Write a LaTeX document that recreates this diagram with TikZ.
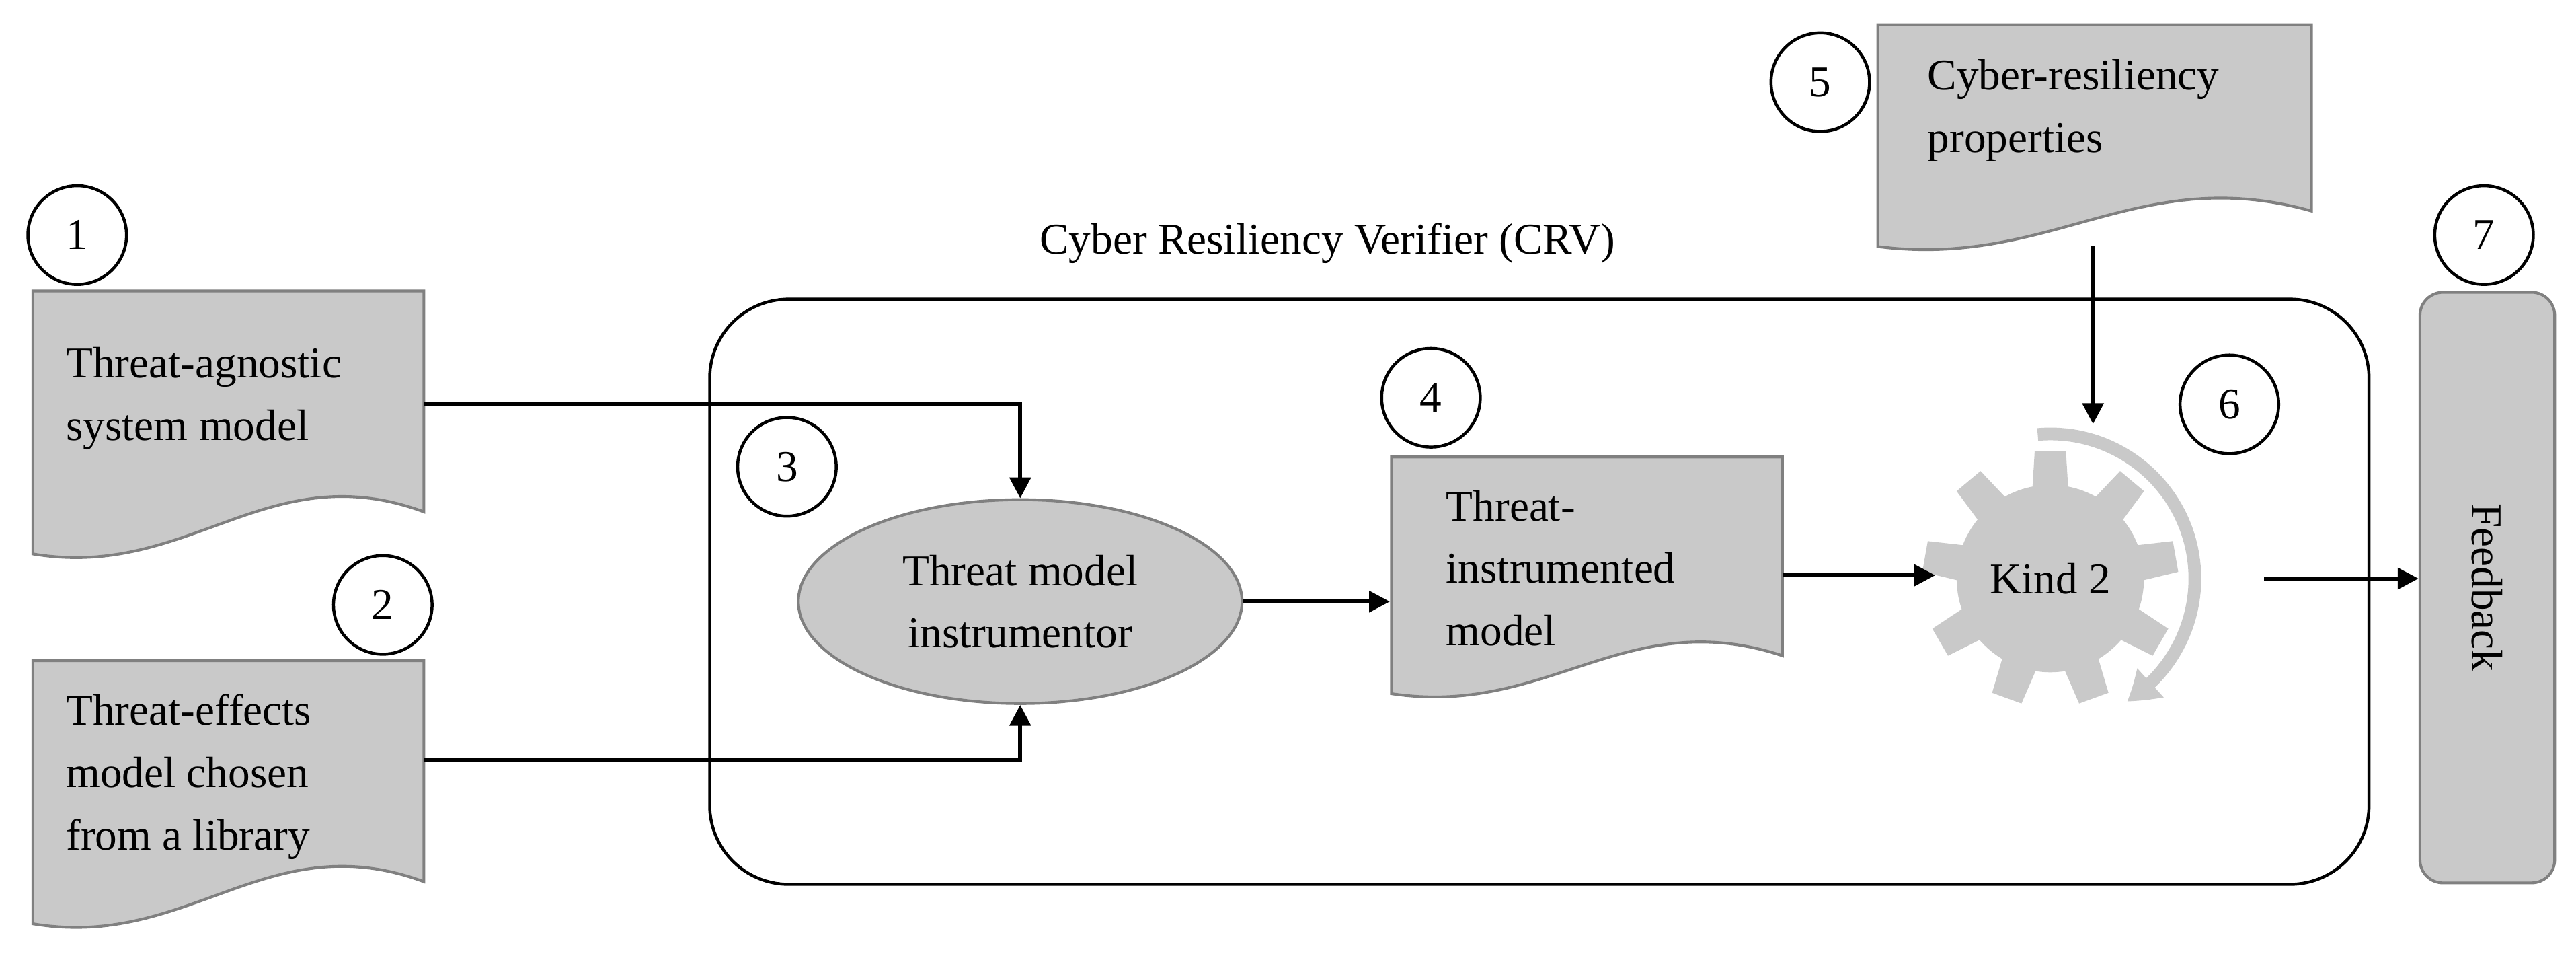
\documentclass[tikz,border=0pt]{standalone}
\usepackage{fontspec}
\setmainfont{Liberation Serif}
\usetikzlibrary{arrows.meta,shapes.geometric,calc,bending}
\begin{document}
\begin{tikzpicture}[x=0.025cm,y=-0.025cm,
  txt/.style={font=\fontsize{19}{27}\selectfont,align=left,inner sep=0pt},
  num/.style={circle,draw,line width=1.3pt,minimum size=1.5cm,inner sep=0pt,font=\fontsize{19}{22}\selectfont},
  doc/.style={fill=black!21,draw=black!50,line width=1.2pt},
  arr/.style={line width=1.8pt,-{Triangle[width=9pt,length=9pt]}}]
\useasboundingbox (0,0) rectangle (1568,584);
\def\docshape#1#2#3#4{% x0 x1 ytop ybot
  \path[doc] (#1,#3) -- (#2,#3) -- (#2,{#4-0.16*(#4-#3)})
   .. controls ({#1+0.6*(#2-#1)},{#4-0.38*(#4-#3)}) and ({#1+0.4*(#2-#1)},{#4+0.1*(#4-#3)}) .. (#1,#4) -- cycle;}
% big box
\draw[line width=1.3pt,rounded corners=1.2cm] (432,182) rectangle (1442,538);
\node[font=\fontsize{19}{22}\selectfont] (crv) at (808,148) {Cyber Resiliency Verifier (CRV)};
% docs
\docshape{20}{258}{177}{337}
\node[txt,anchor=north west] (d1) at (40,211) {Threat-agnostic\\system model};
\docshape{20}{258}{402}{562}
\node[txt,anchor=north west] (d2) at (40,422) {Threat-effects\\model chosen\\from a library};
\docshape{847}{1085}{278}{422}
\node[txt,anchor=north west] (d4) at (880,298) {Threat-\\instrumented\\model};
\docshape{1143}{1407}{15}{150}
\node[txt,anchor=north west] (d5) at (1173,36) {Cyber-resiliency\\properties};
% ellipse
\node[ellipse,doc,minimum width=6.75cm,minimum height=3.1cm,align=center,font=\fontsize{19}{27}\selectfont] (inst) at (621,366) {Threat model\\instrumentor};
% gear
\begin{scope}[shift={(1248,352)}]
  \fill[black!21] (0,0) circle (57);
  \foreach \a in {-90,-50,...,230}{
    \fill[black!21] (\a-13:50) -- (\a-7:78) -- (\a+7:78) -- (\a+13:50) -- cycle;}
  \node[font=\fontsize{19}{22}\selectfont] (kind) at (0,0) {Kind 2};
  \draw[black!21,line width=5.5pt,-{Triangle[width=16pt,length=13pt,bend]}] (-95:88) arc[start angle=-95,end angle=58,radius=88];
\end{scope}
\coordinate (gl) at (1178,350);
\coordinate (gr) at (1378,352);
\coordinate (gt) at (1274,258);
% feedback
\node[doc,rounded corners=0.35cm,minimum width=2.05cm,minimum height=8.98cm] (fb) at (1514,357.5) {};
\node[rotate=-90,font=\fontsize{19}{22}\selectfont] at (fb) {Feedback};
% numbers
\node[num] (n1) at (47,143) {1};
\node[num] (n2) at (233,368) {2};
\node[num] (n3) at (479,284) {3};
\node[num] (n4) at (871,242) {4};
\node[num] (n5) at (1108,50) {5};
\node[num] (n6) at (1357,246) {6};
\node[num] (n7) at (1512,143) {7};
% connectors
\coordinate (a1) at (258,246);
\coordinate (a2) at (258,462);
\draw[arr] (a1) -| (inst.north);
\draw[arr] (a2) -| (inst.south);
\draw[arr] (inst.east) -- (inst.east -| 846,0);
\draw[arr] (1085,350) -- (gl);
\draw[arr] (1274,150) -- (gt);
\draw[arr] (gr) -- (gr -| fb.west);
\end{tikzpicture}
\end{document}
